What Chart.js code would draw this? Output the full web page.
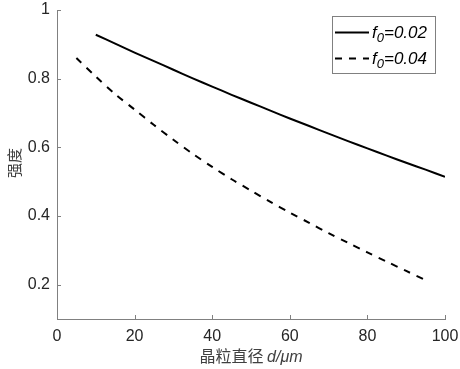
<!DOCTYPE html>
<html>
<head>
<meta charset="utf-8">
<script src="https://cdn.jsdelivr.net/npm/chart.js@4.4.1/dist/chart.umd.min.js"></script>
<style>
html, body { margin: 0; padding: 0; background: #fff; }
#wrap { width: 460px; height: 369px; }
</style>
</head>
<body>
<div id="wrap"><canvas id="chart" width="460" height="369"></canvas></div>
<script>
// data
const dSolid = [10, 15, 20, 25, 30, 35, 40, 45, 50, 55, 60, 65, 70, 75, 80, 85, 90, 95, 100];
const strengthSolid = [0.928, 0.902, 0.876, 0.851, 0.826, 0.801, 0.777, 0.753, 0.730, 0.707, 0.684, 0.662, 0.640, 0.618, 0.597, 0.576, 0.555, 0.535, 0.514];
const dDashed = [5, 10, 15, 20, 25, 30, 35, 40, 45, 50, 55, 60, 65, 70, 75, 80, 85, 90, 95];
const strengthDashed = [0.860, 0.806, 0.755, 0.710, 0.665, 0.622, 0.581, 0.543, 0.507, 0.474, 0.441, 0.410, 0.380, 0.350, 0.322, 0.294, 0.267, 0.240, 0.213];
const f0Values = ['0.02', '0.04'];
const xTicks = [0, 20, 40, 60, 80, 100];
const yTicks = [0.2, 0.4, 0.6, 0.8, 1];

const AXIS = '#808080';
const TEXT = '#262626';
const LATIN = '"Liberation Sans", Arial, sans-serif';
const CJK = '"Noto Sans CJK SC", sans-serif';

const toPoints = (xs, ys) => xs.map((x, i) => ({ x: x, y: ys[i] }));

// inward ticks, axis titles, legend with subscript
const extras = {
  id: 'extras',
  afterDraw(chart) {
    const { ctx, chartArea: a, scales: { x, y } } = chart;
    ctx.save();

    ctx.strokeStyle = AXIS;
    ctx.lineWidth = 1;
    ctx.beginPath();
    xTicks.forEach(v => {
      const px = Math.round(x.getPixelForValue(v)) + 0.5;
      ctx.moveTo(px, a.bottom);
      ctx.lineTo(px, a.bottom - 4);
    });
    yTicks.forEach(v => {
      const py = Math.round(y.getPixelForValue(v)) + 0.5;
      ctx.moveTo(a.left, py);
      ctx.lineTo(a.left + 4, py);
    });
    ctx.stroke();

    // y title
    ctx.fillStyle = '#404040';
    ctx.font = '15px ' + CJK;
    ctx.textAlign = 'center';
    ctx.textBaseline = 'middle';
    ctx.translate(14, 163);
    ctx.rotate(-Math.PI / 2);
    ctx.fillText('强度', 0, 0);
    ctx.setTransform(1, 0, 0, 1, 0, 0);

    // x title, mixed fonts
    const partA = '晶粒直径 ';
    const partB = 'd/μm';
    ctx.textAlign = 'left';
    ctx.textBaseline = 'alphabetic';
    ctx.font = '16px ' + CJK;
    const wA = ctx.measureText(partA).width;
    ctx.font = 'italic 16px ' + LATIN;
    const wB = ctx.measureText(partB).width;
    const cx = (a.left + a.right) / 2;
    const sx = cx - (wA + wB) / 2;
    ctx.font = '16px ' + CJK;
    ctx.fillText(partA, sx, 362);
    ctx.font = 'italic 16px ' + LATIN;
    ctx.fillText(partB, sx + wA, 362);

    // legend
    ctx.fillStyle = '#fff';
    ctx.fillRect(332, 16, 103, 57);
    ctx.strokeStyle = AXIS;
    ctx.strokeRect(332.5, 16.5, 103, 57);
    chart.data.datasets.forEach((ds, i) => {
      const ly = 32.5 + i * 26;
      ctx.strokeStyle = ds.borderColor;
      ctx.lineWidth = ds.borderWidth;
      ctx.setLineDash(ds.borderDash || []);
      ctx.beginPath();
      ctx.moveTo(335, ly);
      ctx.lineTo(369, ly);
      ctx.stroke();
      ctx.setLineDash([]);
      ctx.fillStyle = '#000';
      ctx.textBaseline = 'alphabetic';
      let tx = 372;
      ctx.font = 'italic 17px ' + LATIN;
      ctx.fillText('f', tx, ly + 5);
      tx += ctx.measureText('f').width;
      ctx.font = 'italic 13px ' + LATIN;
      ctx.fillText('0', tx, ly + 9);
      tx += ctx.measureText('0').width;
      ctx.font = 'italic 17px ' + LATIN;
      ctx.fillText('=' + f0Values[i], tx, ly + 5);
    });

    ctx.restore();
  }
};

new Chart(document.getElementById('chart'), {
  type: 'line',
  data: {
    datasets: [
      {
        label: 'f0=' + f0Values[0],
        data: toPoints(dSolid, strengthSolid),
        borderColor: '#000',
        borderWidth: 2,
        pointRadius: 0,
        tension: 0.3,
        fill: false
      },
      {
        label: 'f0=' + f0Values[1],
        data: toPoints(dDashed, strengthDashed),
        borderColor: '#000',
        borderWidth: 2,
        borderDash: [7, 7],
        pointRadius: 0,
        tension: 0.3,
        fill: false
      }
    ]
  },
  options: {
    responsive: false,
    animation: false,
    layout: { padding: { left: 0, top: 10, right: 15, bottom: 0 } },
    plugins: { legend: { display: false }, tooltip: { enabled: false } },
    scales: {
      x: {
        type: 'linear',
        min: 0,
        max: 100,
        afterFit: s => { s.height = 50; s.paddingLeft = 0; s.paddingRight = 0; },
        afterBuildTicks: s => { s.ticks = xTicks.map(v => ({ value: v })); },
        grid: { display: false, drawTicks: false },
        border: { display: true, color: AXIS, width: 1 },
        ticks: { color: TEXT, font: { family: LATIN, size: 16 }, padding: 8, maxRotation: 0 }
      },
      y: {
        type: 'linear',
        min: 0.1,
        max: 1,
        afterFit: s => { s.width = 57; s.paddingTop = 0; s.paddingBottom = 0; },
        afterBuildTicks: s => { s.ticks = yTicks.map(v => ({ value: v })); },
        grid: { display: false, drawTicks: false },
        border: { display: true, color: AXIS, width: 1 },
        ticks: { color: TEXT, font: { family: LATIN, size: 16 }, padding: 7, callback: v => String(v) }
      }
    }
  },
  plugins: [extras]
});
</script>
</body>
</html>
